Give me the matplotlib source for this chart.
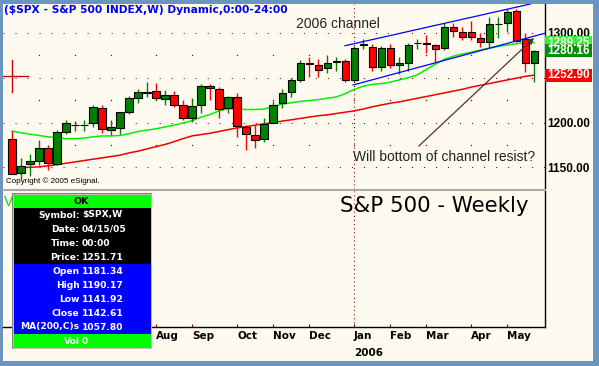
import pandas as pd
import matplotlib
matplotlib.use("Agg")
import matplotlib.pyplot as plt
import matplotlib.transforms as mtransforms
from matplotlib.patches import Rectangle
from matplotlib.lines import Line2D

plt.rcParams["lines.scale_dashes"] = False

# weekly bars, Apr 15 2005 .. May 26 2006
weeks = pd.date_range("2005-04-15", periods=59, freq="W-FRI")

opens = [1181.34, 1143.5, 1154, 1157, 1171, 1154, 1189.5, 1197, 1197, 1199,
         1216, 1192, 1194, 1212, 1227, 1233.5, 1235, 1226.5, 1230.5, 1220,
         1204.5, 1220, 1240.5, 1237, 1216.5, 1228, 1195.5, 1186.5, 1181.5, 1200,
         1221.5, 1234.5, 1248, 1267, 1264, 1260.5, 1268, 1268.3, 1247.5, 1287,
         1284.7, 1262, 1283, 1264, 1266, 1288.3, 1288.4, 1286.6, 1283, 1306.4,
         1300.8, 1301.5, 1294, 1289.5, 1310, 1311, 1324.6, 1293, 1267]
highs = [1190.17, 1160, 1164.5, 1180, 1175, 1192, 1202.5, 1202, 1202.5, 1220,
         1220, 1202.5, 1212, 1230, 1237, 1245, 1244, 1236, 1235, 1225.5,
         1227, 1243, 1243.5, 1240, 1229.5, 1232.5, 1197, 1197, 1204.5, 1224,
         1237, 1249.5, 1270, 1273.5, 1271.5, 1275.5, 1273.5, 1270.5, 1286, 1293,
         1287.3, 1285.4, 1287.5, 1273.5, 1289, 1293, 1297.8, 1288, 1311.5, 1310.9,
         1307, 1313.8, 1299.6, 1317.6, 1317.6, 1327, 1326.5, 1299.6, 1281]
lows = [1141.92, 1137, 1140, 1152, 1147, 1152, 1187, 1191, 1190, 1195,
        1188, 1185.5, 1187, 1209, 1222, 1228.5, 1225, 1219, 1217, 1202.5,
        1200.5, 1211, 1225, 1205, 1210.5, 1183.5, 1169, 1171, 1178, 1199,
        1216.5, 1228.5, 1245.5, 1251, 1251, 1255, 1257, 1245.5, 1245.5, 1282,
        1258, 1257.8, 1261, 1254, 1257, 1281.7, 1277.2, 1268, 1281, 1295,
        1292, 1292, 1284.7, 1283, 1294, 1301.5, 1290, 1256.7, 1245.5]
closes = [1142.61, 1151.5, 1156.5, 1171.5, 1155, 1189.5, 1199.5, 1197.5, 1197.5, 1217,
          1192.5, 1194.5, 1211.5, 1227, 1234, 1234, 1227, 1230.5, 1220, 1205,
          1218, 1240.5, 1238, 1215.5, 1228, 1196, 1187.5, 1181, 1198, 1219.5,
          1233.5, 1247.5, 1267, 1265, 1259, 1266, 1268.3, 1248, 1283.5, 1287.3,
          1261.6, 1283, 1264, 1267, 1286.6, 1288.6, 1288.2, 1281.7, 1306.4, 1302.6,
          1295, 1295.2, 1289.6, 1310, 1310.3, 1324, 1291.4, 1267, 1280.16]

ma_fast = [1190.3, 1188.5, 1187, 1185.5, 1184, 1183, 1182, 1182, 1182.5, 1184,
           1185, 1185, 1185.5, 1187.5, 1190, 1191.5, 1193, 1195, 1197, 1199.5,
           1202, 1206, 1209, 1213, 1215.5, 1215, 1214.5, 1214.5, 1215, 1218,
           1220.5, 1222, 1223.5, 1224.5, 1225.5, 1227, 1228.5, 1232, 1237, 1240.5,
           1242.5, 1243.5, 1245, 1247.5, 1250, 1253, 1259, 1265, 1270.5, 1274,
           1276.5, 1278.5, 1281, 1283, 1285, 1286.5, 1288, 1289, 1289.25]
ma_slow = [1149, 1149.5, 1150, 1150.5, 1151.5, 1153, 1154.5, 1156, 1157.5, 1159,
           1160.5, 1162, 1163.5, 1166, 1168, 1170.5, 1173, 1175.5, 1178.5, 1182,
           1185, 1186.5, 1188, 1190, 1192, 1194, 1195.5, 1197, 1198.5, 1200,
           1201.5, 1203, 1204.5, 1206, 1207.5, 1208.5, 1210, 1211.5, 1213, 1215,
           1217.5, 1219.5, 1221.5, 1223, 1225, 1227, 1229, 1231, 1233, 1235,
           1237, 1239.5, 1241.5, 1243.5, 1245.5, 1247.5, 1249.5, 1251.5, 1252.9]

# hand drawn channel (bar index, price)
chan_upper_x, chan_upper_y = [37.0, 57.6], [1285.8, 1332.4]
chan_lower_x, chan_lower_y = [37.9, 59.2], [1241.9, 1299.7]
arrow_from, arrow_to = (45.2, 1173.7), (58.0, 1294.4)

major_levels = [1150, 1200, 1250, 1300]
minor_levels = [1175, 1225, 1275]
hidden_level = 1250  # its label sits under the red MA box

cursor_bar, cursor_price = 0, 1251.71
win_labels = ["Symbol:", "Date:", "Time:", "Price:", "Open", "High", "Low", "Close", "MA(200,C)s", "Vol"]
win_values = ["$SPX,W", "04/15/05", "00:00", "1251.71", "1181.34", "1190.17", "1141.92", "1142.61", "1057.80", "0"]

title = "($SPX - S&P 500 INDEX,W) Dynamic,0:00-24:00"
first_labelled = pd.Timestamp("2005-08-01")  # earlier month names sit under the data window

W, H = 599, 366
FRAME = "#6b94bf"
CREAM = "#fffaf0"
DOTS = "#8b0000"


def box(x0, y0, x1, y1):
    return [x0 / W, 1 - y1 / H, (x1 - x0) / W, (y1 - y0) / H]


fig = plt.figure(figsize=(W / 100, H / 100), dpi=100, facecolor=FRAME)
fig.patches.append(Rectangle((3 / W, 1 - 361 / H), 590 / W, 357 / H, transform=fig.transFigure,
                             facecolor=CREAM, edgecolor="none", zorder=-10))

idx = list(range(len(closes)))
month_idx = [i for i in idx[1:] if weeks[i].month != weeks[i - 1].month]
month_lbl = []
for i in month_idx:
    if weeks[i] < first_labelled:
        month_lbl.append("")
    elif weeks[i].month == 1:
        month_lbl.append(weeks[i].strftime("%b\n%Y"))
    else:
        month_lbl.append(weeks[i].strftime("%b"))
jan_idx = [i for i in month_idx if weeks[i].year == 2006][0]

# ---------- price panel ----------
ax = fig.add_axes(box(3, 4, 545, 189))
ax.set_facecolor("none")
ax.set_xlim(-1, 59.22)
ax.set_ylim(1125.7, 1332.4)

for lv in major_levels:
    ax.axhline(lv, color=DOTS, lw=0.75, dashes=(0.75, 7.9), zorder=1)
for lv in minor_levels:
    ax.plot(month_idx, [lv] * len(month_idx), ls="none", marker="s", ms=0.9, mew=0, color=DOTS, zorder=1)
ax.axvline(jan_idx, color=DOTS, lw=0.75, dashes=(0.75, 2.2), zorder=1)

ax.plot(idx, ma_fast, color="#00f000", lw=1.1, zorder=2)
ax.plot(idx, ma_slow, color="#ee0000", lw=1.1, zorder=2)

for i in idx:
    o, h, l, c = opens[i], highs[i], lows[i], closes[i]
    col = "#008000" if c >= o else "#ff0000"
    ax.vlines(i, l, h, color=col, lw=1.0, zorder=3)
    ax.add_patch(Rectangle((i - 0.39, min(o, c)), 0.78, abs(c - o), facecolor=col,
                           edgecolor="black", lw=0.8, zorder=4))

ax.plot(chan_upper_x, chan_upper_y, color="#0000ff", lw=0.9, zorder=5)
ax.plot(chan_lower_x, chan_lower_y, color="#0000ff", lw=0.9, zorder=5)
ax.annotate("", xy=arrow_to, xytext=arrow_from,
            arrowprops=dict(arrowstyle="-|>", color="#5c2e2e", lw=0.9, mutation_scale=9,
                            shrinkA=0, shrinkB=0), zorder=6)
ax.text(31.55, 1305.9, "2006 channel", family="Liberation Sans", fontsize=10, color="#222222", va="baseline")
ax.text(37.93, 1157, "Will bottom of channel resist?", family="Liberation Sans", fontsize=10,
        color="#222222", va="baseline")
ax.text(0.0055, 0.031, "Copyright \u00a9 2005 eSignal.", transform=ax.transAxes, family="Liberation Sans",
        fontsize=5.8, color="black", va="baseline")

# cursor cross
ax.plot([cursor_bar - 1.8, cursor_bar + 1.8], [cursor_price, cursor_price], color="#cc0000", lw=1, zorder=6)
ax.plot([cursor_bar, cursor_bar], [cursor_price - 18, cursor_price + 18], color="#cc0000", lw=1, zorder=6)

ax.yaxis.tick_right()
ax.set_yticks(major_levels)
ax.set_yticklabels(["" if v == hidden_level else f"{v:.2f}" for v in major_levels])
ax.tick_params(axis="y", length=0, pad=1.5, labelsize=8.5)
for t in ax.get_yticklabels():
    t.set_fontfamily("Liberation Sans")
    t.set_fontweight("bold")
ax.set_xticks([])
for s in ["left", "top", "bottom"]:
    ax.spines[s].set_visible(False)
ax.spines["right"].set_linewidth(1)

# last value boxes
bt = mtransforms.blended_transform_factory(ax.transAxes, ax.transData)
for val, face in [(ma_fast[-1], "#33ee33"), (closes[-1], "#009000"), (ma_slow[-1], "#ff0000")]:
    ax.add_patch(Rectangle((1.0, val - 7.3), 0.0867, 14.6, transform=bt, facecolor=face,
                           edgecolor="none", clip_on=False, zorder=7))
    ax.text(1.0434, val, f"{val:.2f}", transform=bt, ha="center", va="center", color="white",
            family="Liberation Sans", fontweight="bold", fontsize=8.5, clip_on=False, zorder=8)

fig.add_artist(Line2D([3 / W, 545 / W], [1 - 190 / H] * 2, color="#a8a8a8", lw=1.5))

# ---------- lower panel ----------
ax2 = fig.add_axes(box(3, 191, 545, 327))
ax2.set_facecolor("none")
ax2.set_xlim(-1, 59.22)
ax2.set_ylim(0, 1)
ax2.set_yticks([])
ax2.axvline(jan_idx, color=DOTS, lw=0.75, dashes=(0.75, 2.2), zorder=1)
ax2.set_xticks(month_idx)
ax2.set_xticklabels(month_lbl, ha="left", family="DejaVu Sans", fontweight="bold", fontsize=7.5,
                    linespacing=1.85)
ax2.tick_params(axis="x", direction="in", length=2, color=DOTS, pad=3)
for s in ["left", "top"]:
    ax2.spines[s].set_visible(False)
for s in ["right", "bottom"]:
    ax2.spines[s].set_linewidth(1)
ax2.text(0.001, 0.97, "Vol", transform=ax2.transAxes, color="#00dd00", family="Liberation Sans",
         fontsize=10, va="top")

fig.text(340 / W, 1 - 211.7 / H, "S&P 500 - Weekly", family="DejaVu Sans", fontsize=15.4,
         color="black", va="baseline")
fig.text(4 / W, 1 - 13.3 / H, title, family="DejaVu Sans", fontweight="bold", fontsize=7.7,
         color="#0000ee", va="baseline", parse_math=False)

# ---------- data window ----------
wa = fig.add_axes(box(12, 193, 152, 349))
wa.set_xlim(0, 140)
wa.set_ylim(156, 0)
wa.axis("off")
wa.add_patch(Rectangle((0, 0), 140, 156, facecolor="#d4d0c8", edgecolor="#808080", lw=1))
wa.add_patch(Rectangle((2, 1.5), 136.5, 13, facecolor="#00ff00", edgecolor="none"))
wa.add_patch(Rectangle((1.5, 14.5), 137.5, 56, facecolor="black", edgecolor="none"))
wa.add_patch(Rectangle((1.5, 70.5), 137.5, 70, facecolor="#0000ff", edgecolor="none"))
wa.add_patch(Rectangle((1.5, 140.5), 137.5, 14, facecolor="#00ff00", edgecolor="none"))
wa.text(69, 8, "OK", ha="center", va="center", color="black", family="DejaVu Sans",
        fontweight="bold", fontsize=6.8)
for k, (lab, val) in enumerate(zip(win_labels, win_values)):
    yy = 22 + 14 * k
    wa.text(67.5, yy, lab, ha="right", va="center", color="white", family="DejaVu Sans",
            fontweight="bold", fontsize=6.6, parse_math=False)
    wa.text(70, yy, val, ha="left", va="center", color="white", family="DejaVu Sans",
            fontweight="bold", fontsize=6.6, parse_math=False)

fig.savefig("out.png", dpi=100, facecolor=FRAME)
